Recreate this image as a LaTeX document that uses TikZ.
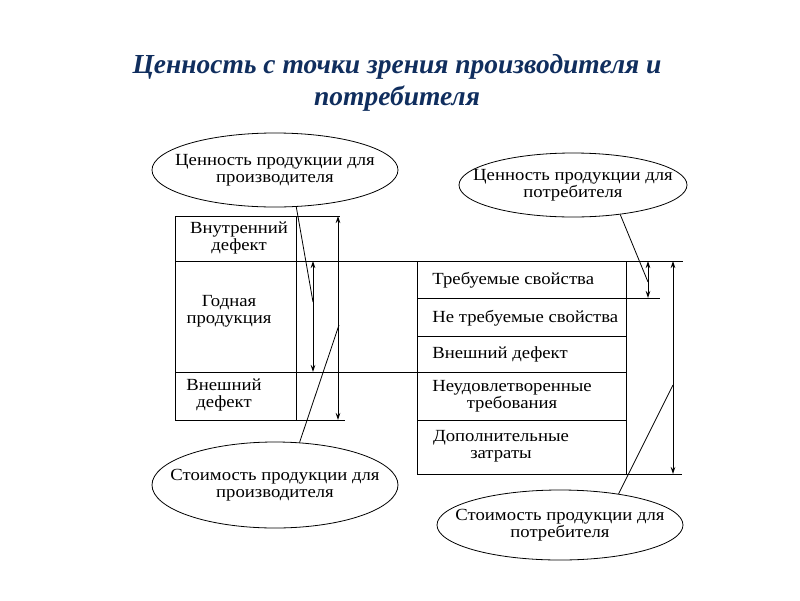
\documentclass[tikz,border=0pt]{standalone}
\usepackage{fontspec}
\setmainfont{Liberation Serif}
\newfontfamily\diagfont{Liberation Serif}[FakeStretch=1.1]
\usetikzlibrary{shapes.geometric,arrows.meta}
\definecolor{titleblue}{RGB}{16,46,94}

\tikzset{
  oval/.style={draw, ellipse, inner xsep=-24pt, inner ysep=0pt, align=center, font=\diagfont\fontsize{17}{17}\selectfont},
  cell/.style={inner sep=0pt, align=center, font=\diagfont\fontsize{17}{17}\selectfont},
  dim/.style={{Stealth[length=7pt,width=4.5pt]}-{Stealth[length=7pt,width=4.5pt]}},
}

\begin{document}
\begin{tikzpicture}[x=1pt, y=-1pt, line width=0.8pt]
    \useasboundingbox (0,0) rectangle (800,600);
    \node[text=titleblue, align=center, font=\fontsize{27.5}{32}\selectfont\bfseries\itshape] (title) at (397,83) {Ценность с точки зрения производителя и\\потребителя};
    % ellipses
    \node[oval, minimum width=246pt, minimum height=74pt] (valprod) at (275,170) {Ценность продукции для\\производителя};
    \node[oval, minimum width=246pt, minimum height=86pt] (costprod) at (275,485) {Стоимость продукции для\\производителя};
    \node[oval, minimum width=228pt, minimum height=64pt] (valcons) at (573,185) {Ценность продукции для\\потребителя};
    \node[oval, minimum width=246pt, minimum height=70pt] (costcons) at (560,525) {Стоимость продукции для\\потребителя};
    % left table
    \draw (175,216) -- (340,216);
    \draw (175,216) -- (175,420) -- (345,420);
    \draw (175,261) -- (683,261);
    \draw (175,372) -- (626,372);
    \draw (296,216) -- (296,420);
    \node[cell] (inner) at (239,238) {Внутренний\\дефект};
    \node[cell] (good) at (229,311) {Годная\\продукция};
    \node[cell] (outer) at (224,395) {Внешний\\дефект};
    % right table
    \draw (417,261) -- (417,474);
    \draw (626,261) -- (626,474);
    \draw (417,298) -- (660,298);
    \draw (417,336) -- (626,336);
    \draw (417,420) -- (626,420);
    \draw (417,474) -- (682,474);
    \node[cell, anchor=west] (req) at (432,280) {Требуемые свойства};
    \node[cell, anchor=west] (notreq) at (432,318) {Не требуемые свойства};
    \node[cell, anchor=west] (extdef) at (432,354) {Внешний дефект};
    \node[cell] (unmet) at (512,396) {Неудовлетворенные\\требования};
    \node[cell] (extra) at (501,446) {Дополнительные\\затраты};
    % dimension arrows
    \draw[dim] (313,261) -- (313,372);
    \draw[dim] (338,216) -- (338,420);
    \draw[dim] (648,261) -- (648,298);
    \draw[dim] (673,261) -- (673,474);
    % pointers
    \coordinate (pvp) at (313,302);
    \coordinate (pcp) at (339,325);
    \coordinate (pvc) at (648,282);
    \coordinate (pcc) at (673,385);
    \draw (valprod.-60) -- (pvp);
    \draw (costprod.60) -- (pcp);
    \draw (valcons.-32) -- (pvc);
    \draw (costcons.28) -- (pcc);
\end{tikzpicture}
\end{document}
